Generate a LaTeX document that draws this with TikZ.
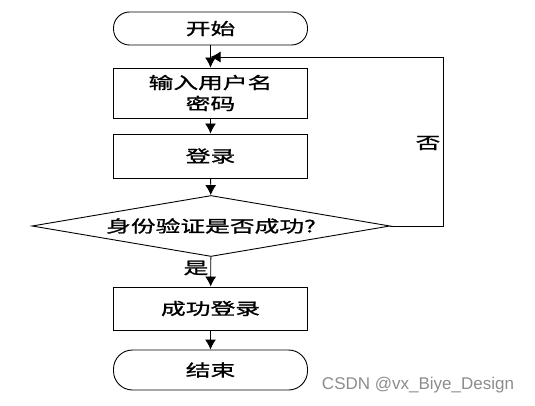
\documentclass[tikz,border=0pt]{standalone}
\usepackage{fontspec}
\newfontfamily\cjk[FakeStretch=1.5,FakeBold=1.2]{Noto Sans CJK SC}
\newfontfamily\wmfont{Liberation Sans}
\usetikzlibrary{shapes.geometric,arrows.meta}
\begin{document}
\begin{tikzpicture}[x=1pt, y=-1pt, line width=0.9pt,
  txt/.style={font=\cjk\fontsize{16.5}{21}\selectfont},
  term/.style={txt, draw=black, rectangle, rounded corners=16pt, minimum width=194pt, inner sep=0pt},
  proc/.style={txt, draw=black, rectangle, minimum width=194pt, inner sep=0pt, align=center},
  cond/.style={txt, draw=black, diamond, aspect=6, minimum width=358pt, minimum height=61pt, inner sep=0pt},
  flow/.style={-{Latex[length=10pt,width=11pt]}}
]
\useasboundingbox (0,0) rectangle (535,406);

\node[term, minimum height=33pt] (start) at (210.5,28.5) {开始};
\node[proc, minimum height=50pt] (input) at (210.5,93) {输入用户名\\密码};
\node[proc, minimum height=44pt] (login) at (210.5,156) {登录};
\node[cond] (check) at (211,226) {身份验证是否成功?};
\node[proc, minimum height=43pt] (ok) at (210.5,308.5) {成功登录};
\node[term, minimum height=40pt, rounded corners=19pt] (finish) at (210.5,370) {结束};

\coordinate (merge) at (210.5,57);
\node[txt] (yes) at (196,268) {是};
\node[txt] (no) at (428,143) {否};
\node[font=\wmfont\fontsize{17}{20}\selectfont, text=black!45] (mark) at (418,385) {CSDN @vx\_Biye\_Design};

\draw[flow] (start) -- (input);
\draw[flow] (input) -- (login);
\draw[flow] (login) -- (check);
\draw[flow] (check) -- (ok);
\draw[flow] (ok) -- (finish);
\draw[flow] (check.east) -- (443,226) |- (merge);
\end{tikzpicture}
\end{document}
